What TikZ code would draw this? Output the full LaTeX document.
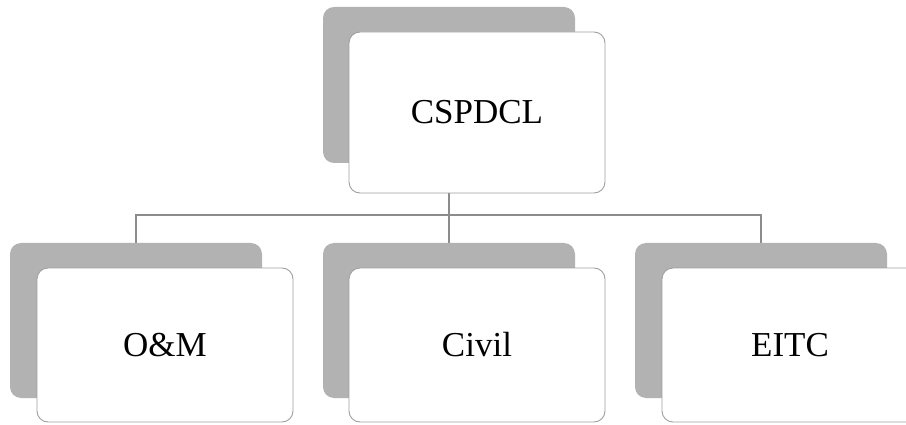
\documentclass[tikz,border=0pt]{standalone}
\usepackage{fontspec}
\setmainfont{Liberation Serif}
\usetikzlibrary{backgrounds}
\definecolor{backgray}{HTML}{B2B2B2}
\definecolor{edgegray}{HTML}{A0A0A0}
\definecolor{linegray}{HTML}{8C8C8C}
\begin{document}
\begin{tikzpicture}[x=1pt,y=-1pt,
  backbox/.style={shape=rectangle, rounded corners=11pt, fill=backgray, draw=none,
    minimum width=252pt, minimum height=156pt, inner sep=0pt},
  frontbox/.style={shape=rectangle, rounded corners=11pt, fill=white, draw=edgegray,
    line width=0.9pt, minimum width=256pt, inner sep=0pt,
    font=\fontsize{35}{40}\selectfont},
  conn/.style={draw=linegray, line width=1.1pt}]
\useasboundingbox (0,0) rectangle (906,425);
% top
\node[backbox] (tb) at (449,85) {};
\node[frontbox, minimum height=161pt] (tf) at (477,112.5) {CSPDCL};
% bottom backs
\node[backbox, minimum height=155pt] (lb) at (136,320.5) {};
\node[backbox, minimum height=155pt] (mb) at (449,320.5) {};
\node[backbox, minimum height=155pt] (rb) at (761,320.5) {};
% bottom fronts
\node[frontbox, minimum height=154pt] (lf) at (165,345) {O\&M};
\node[frontbox, minimum height=154pt] (mf) at (477,345) {Civil};
\node[frontbox, minimum height=154pt] (rf) at (790,345) {EITC};
\coordinate (bus) at (0,215);
\begin{scope}[on background layer]
  \draw[conn] (tb.south) -- (mb.north);
  \draw[conn] (lb.north) |- (bus -| rb.north) -- (rb.north);
\end{scope}
\end{tikzpicture}
\end{document}
